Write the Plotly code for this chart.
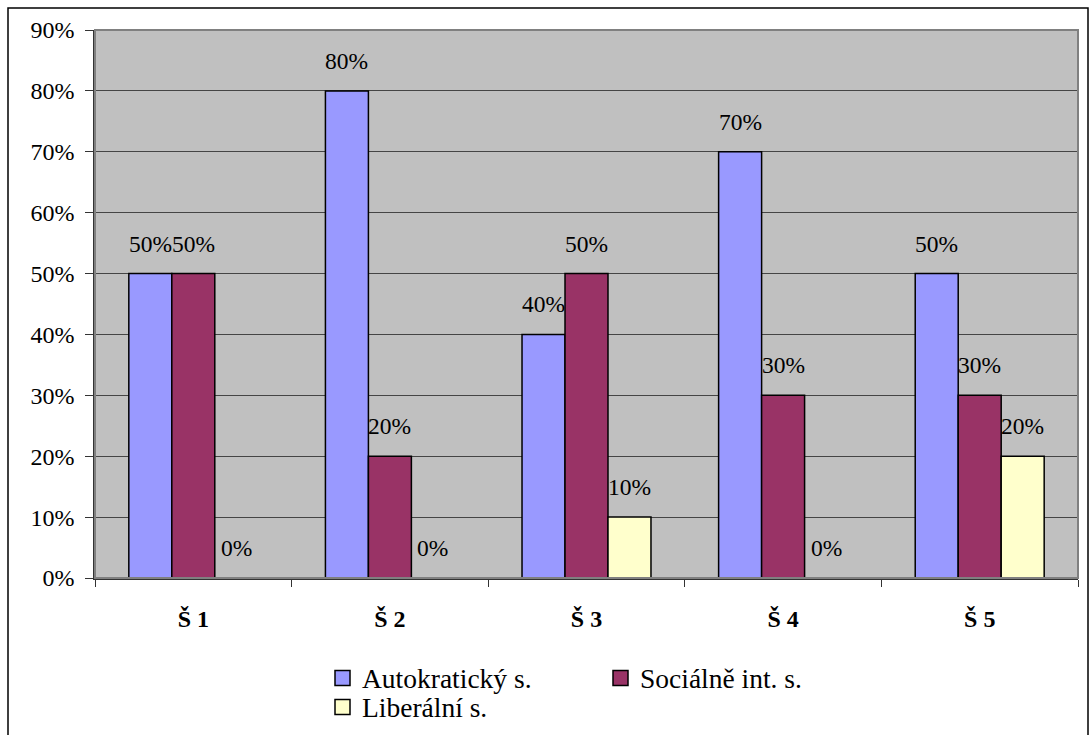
import plotly.graph_objects as go

# Survey results per school
categories = ["Š 1", "Š 2", "Š 3", "Š 4", "Š 5"]
series_names = ["Autokratický s.", "Sociálně int. s.", "Liberální s."]
autokraticky = [50, 80, 40, 70, 50]
socialne = [50, 20, 50, 30, 30]
liberalni = [0, 0, 10, 0, 20]
y_ticks = [0, 10, 20, 30, 40, 50, 60, 70, 80, 90]

series_values = [autokraticky, socialne, liberalni]
colors = ["#9999FF", "#993366", "#FFFFCC"]

W, H = 1089, 735
ML, MR, MT, MB = 95, 11, 30, 157
PW, PH = W - ML - MR, H - MT - MB
FONT = "'Liberation Serif', 'Times New Roman', serif"
BARGAP = 0.344


def px_x(px):
    return (px - ML) / PW


def px_y(py):
    return (H - MB - py) / PH


fig = go.Figure()
for name, vals, col in zip(series_names, series_values, colors):
    fig.add_trace(go.Bar(
        x=categories, y=vals, name=name,
        marker=dict(color=col, line=dict(color="black", width=1.5)),
        showlegend=False, hoverinfo="skip",
    ))

# value labels above each bar, placed at the bar's centre within its group
n = len(series_values)
bar_w = (1 - BARGAP) / n
annotations = []
for si, vals in enumerate(series_values):
    offset = (si - (n - 1) / 2) * bar_w
    for ci, v in enumerate(vals):
        annotations.append(dict(
            x=ci + offset, y=v, xref="x", yref="y", text=f"{v}%",
            showarrow=False, yanchor="bottom", xanchor="center", yshift=15,
            font=dict(family=FONT, size=23.5, color="black"),
        ))

# legend drawn as swatches + text
legend_pos = [(335, 678), (613, 678), (335, 707)]
shapes = []
for (lx, ly), name, col in zip(legend_pos, series_names, colors):
    shapes.append(dict(
        type="rect", xref="paper", yref="paper",
        x0=px_x(lx), x1=px_x(lx + 15), y0=px_y(ly + 7.5), y1=px_y(ly - 7.5),
        fillcolor=col, line=dict(color="black", width=1.5),
    ))
    annotations.append(dict(
        x=px_x(lx + 25), y=px_y(ly), xref="paper", yref="paper",
        text=name, showarrow=False, xanchor="left", yanchor="middle",
        font=dict(family=FONT, size=27.5, color="black"),
    ))

# plot-area frame (top/right in grey) and outer chart border
shapes.append(dict(type="rect", xref="paper", yref="paper", x0=0, x1=1, y0=0, y1=1,
                   line=dict(color="#808080", width=2), layer="above"))
shapes.append(dict(type="rect", xref="paper", yref="paper",
                   x0=px_x(8), x1=px_x(1088), y0=px_y(745), y1=px_y(8),
                   line=dict(color="black", width=1.5)))

fig.update_layout(
    width=W, height=H,
    margin=dict(l=ML, r=MR, t=MT, b=MB),
    paper_bgcolor="white", plot_bgcolor="#C0C0C0",
    barmode="group", bargap=BARGAP, bargroupgap=0,
    annotations=annotations, shapes=shapes,
    font=dict(family=FONT, color="black"),
)
fig.update_xaxes(
    type="category", tickson="boundaries", ticks="outside", ticklen=7,
    tickcolor="#333333", showline=True, linecolor="#333333", linewidth=1.5,
    tickfont=dict(family=FONT, size=24, color="black"),
    ticklabelstandoff=18, showgrid=False,
    tickvals=categories, ticktext=[f"<b>{c}</b>" for c in categories],
)
fig.update_yaxes(
    range=[0, 90], tickvals=y_ticks, ticktext=[f"{t}%" for t in y_ticks],
    ticks="outside", ticklen=8, tickcolor="#333333",
    showline=True, linecolor="#333333", linewidth=1.5,
    showgrid=True, gridcolor="#454545", gridwidth=1.2,
    tickfont=dict(family=FONT, size=24, color="black"),
    ticklabelstandoff=6, zeroline=False,
)

fig.write_html("out.html")
